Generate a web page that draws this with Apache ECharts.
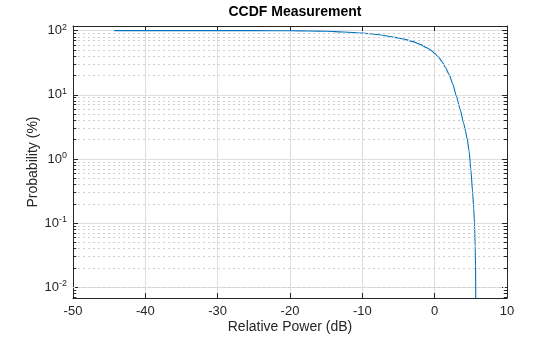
<!DOCTYPE html>
<html><head><meta charset="utf-8">
<script src="https://cdn.jsdelivr.net/npm/echarts@6/dist/echarts.min.js"></script>
<style>html,body{margin:0;padding:0;background:#fff}#c{width:560px;height:337px}</style>
</head><body><div id="c"></div>
<script>
// Relative power (dB) and CCDF probability (%)
const powerDb = [-44.3, -40, -35, -30, -25, -20, -17.5, -15, -12.5, -10, -8, -6, -5, -4, -3, -2, -1, -0.5, 0, 0.5, 1, 1.5, 2, 2.5, 3, 3.5, 4, 4.25, 4.5, 4.75, 5, 5.25, 5.4, 5.5, 5.6, 5.65, 5.68];
const probPct = [100, 100, 99.99, 99.95, 99.8, 99.4, 98.6, 97.5, 95.3, 91.6, 87.1, 80.4, 76.7, 72.4, 67.3, 61.0, 53.7, 49.2, 44.4, 39.1, 33.0, 26.6, 20.7, 14.8, 9.55, 6.03, 3.63, 2.75, 2.04, 1.35, 0.69, 0.30, 0.17, 0.1, 0.0437, 0.0209, 0.0068];
const xTicks = [-50, -40, -30, -20, -10, 0, 10];
const yDecadeExps = [-2, -1, 0, 1, 2];
const yMinorFactors = [2, 3, 4, 5, 6, 7, 8, 9];
const yLimits = [0.0068, 118];

const AX = '#262626';
const FONT = 'Liberation Sans';
const xMin = xTicks[0], xMax = xTicks[xTicks.length - 1];

const minorVals = [];
[-3].concat(yDecadeExps).forEach(e => {
  yMinorFactors.forEach(f => {
    const v = f * Math.pow(10, e);
    if (v > yLimits[0] && v < yLimits[1]) minorVals.push(v);
  });
});
const tickLen = 0.45; // in x units
const minorTickLines = [];
minorVals.forEach(v => {
  minorTickLines.push([{coord: [xMin, v]}, {coord: [xMin + tickLen, v]}]);
  minorTickLines.push([{coord: [xMax, v]}, {coord: [xMax - tickLen, v]}]);
});

function yFmt(v) {
  const e = Math.log10(v);
  const r = Math.round(e);
  if (Math.abs(e - r) > 1e-6) return '';
  return '{b|10}{s|' + r + '}';
}
const yRich = {
  b: {fontSize: 13, fontFamily: FONT, color: AX, lineHeight: 16},
  s: {fontSize: 9, fontFamily: FONT, color: AX, verticalAlign: 'top', lineHeight: 16, padding: [0, 0, 7, 0]}
};

const chart = echarts.init(document.getElementById('c'), null, {renderer: 'canvas'});
chart.setOption({
  animation: false,
  backgroundColor: '#ffffff',
  title: {
    text: 'CCDF Measurement', left: 290, top: 0, textAlign: 'center',
    textStyle: {fontFamily: FONT, fontSize: 14, fontWeight: 'bold', color: '#000'}
  },
  grid: {left: 73, right: 53, top: 26, bottom: 39, outerBoundsMode: 'none'},
  xAxis: [{
    type: 'value', min: xMin, max: xMax, interval: 10, position: 'bottom',
    name: 'Relative Power (dB)', nameLocation: 'middle', nameGap: 22, nameMoveOverlap: false,
    nameTextStyle: {fontFamily: FONT, fontSize: 14, color: AX},
    axisLine: {show: true, onZero: false, lineStyle: {color: AX, width: 1}},
    axisTick: {show: true, inside: true, length: 5, lineStyle: {color: AX}},
    axisLabel: {fontFamily: FONT, fontSize: 13, color: AX, margin: 7, showMinLabel: true, showMaxLabel: true},
    splitLine: {show: true, lineStyle: {color: '#dedede', width: 1}}
  }, {
    type: 'value', min: xMin, max: xMax, interval: 10, position: 'top',
    axisLine: {show: true, onZero: false, lineStyle: {color: AX, width: 1}},
    axisTick: {show: true, inside: true, length: 5, lineStyle: {color: AX}},
    axisLabel: {show: false}, splitLine: {show: false}
  }],
  yAxis: [{
    type: 'log', logBase: 10, min: yLimits[0], max: yLimits[1], position: 'left',
    name: 'Probability (%)', nameLocation: 'middle', nameGap: 33, nameRotate: 90, nameMoveOverlap: false,
    nameTextStyle: {fontFamily: FONT, fontSize: 14, color: AX},
    axisLine: {show: true, onZero: false, lineStyle: {color: AX, width: 1}},
    axisTick: {show: true, inside: true, length: 5, lineStyle: {color: AX}},
    axisLabel: {formatter: yFmt, rich: yRich, margin: 6, showMinLabel: true, showMaxLabel: true},
    splitLine: {show: true, lineStyle: {color: '#dedede', width: 1}}
  }, {
    type: 'log', logBase: 10, min: yLimits[0], max: yLimits[1], position: 'right',
    axisLine: {show: true, onZero: false, lineStyle: {color: AX, width: 1}},
    axisTick: {show: true, inside: true, length: 5, lineStyle: {color: AX}},
    axisLabel: {show: false}, splitLine: {show: false}
  }],
  series: [{
    type: 'line', xAxisIndex: 0, yAxisIndex: 0, data: [], z: 1, silent: true,
    markLine: {
      silent: true, symbol: 'none', animation: false, label: {show: false},
      lineStyle: {color: '#cfcfcf', width: 1, type: [2, 3]},
      data: minorVals.map(v => ({yAxis: v}))
    }
  }, {
    type: 'line', xAxisIndex: 0, yAxisIndex: 0, data: [], z: 4, silent: true,
    markLine: {
      silent: true, symbol: 'none', animation: false, label: {show: false},
      lineStyle: {color: AX, width: 1, type: 'solid'},
      data: minorTickLines
    }
  }, {
    type: 'line', xAxisIndex: 0, yAxisIndex: 0, z: 3,
    data: powerDb.map((x, i) => [x, probPct[i]]),
    showSymbol: false, symbol: 'none', smooth: 0.2, smoothMonotone: 'x',
    lineStyle: {color: '#0072BD', width: 1.1}
  }]
});
</script></body></html>
